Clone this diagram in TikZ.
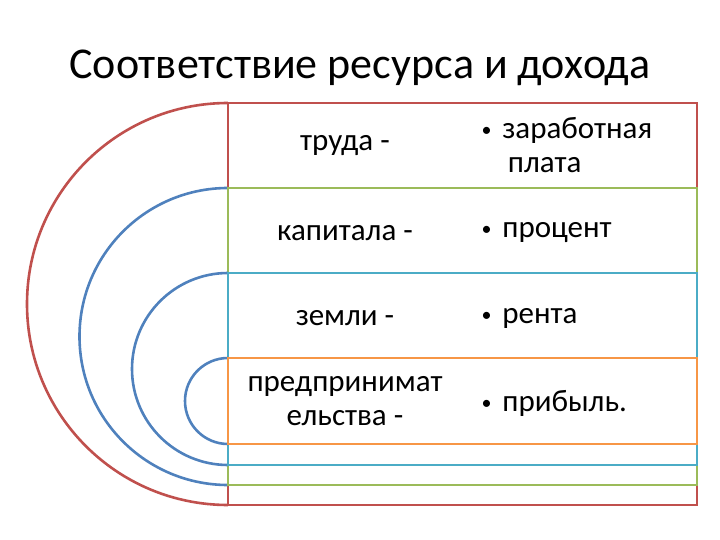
\documentclass[tikz,border=0pt]{standalone}
\usepackage{fontspec}
\setmainfont{Carlito}
\newcommand{\blt}{{\fontsize{20}{20}\selectfont\raisebox{2pt}{•}}\hspace{0.35em}}
\begin{document}
\begin{tikzpicture}[x=1pt,y=-1pt,
  lvl/.style={font=\fontsize{31}{34}\selectfont, align=center},
  itm/.style={font=\fontsize{31}{34}\selectfont, align=left, anchor=west},
  arc/.style={line width=2.6pt}]
\useasboundingbox (0,0) rectangle (720,540);
\node (title) at (360,68) {\fontsize{44}{48}\selectfont Соответствие ресурса и дохода};
% red level
\draw[arc, color={rgb,255:red,192;green,80;blue,77}] (228,103) arc[start angle=270,end angle=90,radius=201];
\draw[line width=1.5pt, draw={rgb,255:red,192;green,80;blue,77}, fill=white] (228,103) rectangle (697,505);
% green level
\draw[arc, color={rgb,255:red,79;green,129;blue,189}] (228,188) arc[start angle=270,end angle=90,radius=148.5];
\draw[line width=1.5pt, draw={rgb,255:red,155;green,187;blue,89}, fill=white] (228,188) rectangle (697,485);
% aqua level
\draw[arc, color={rgb,255:red,79;green,129;blue,189}] (228,273) arc[start angle=270,end angle=90,radius=96];
\draw[line width=1.5pt, draw={rgb,255:red,75;green,172;blue,198}, fill=white] (228,273) rectangle (697,465);
% orange level
\draw[arc, color={rgb,255:red,79;green,129;blue,189}] (228,358) arc[start angle=270,end angle=90,radius=43];
\draw[line width=1.5pt, draw={rgb,255:red,247;green,150;blue,70}, fill=white] (228,358) rectangle (697,444);
\node[lvl] (l1) at (345,146) {труда -};
\node[lvl] (l2) at (345,233) {капитала -};
\node[lvl] (l3) at (345,318) {земли -};
\node[lvl] (l4) at (345,401) {предпринимат\\ельства -};
\node[itm] (r1) at (478,145) {\blt заработная\\\hspace*{0.85em}плата};
\node[itm] (r2) at (478,233) {\blt процент};
\node[itm] (r3) at (478,318) {\blt рента};
\node[itm] (r4) at (478,403) {\blt прибыль.};
\end{tikzpicture}
\end{document}
